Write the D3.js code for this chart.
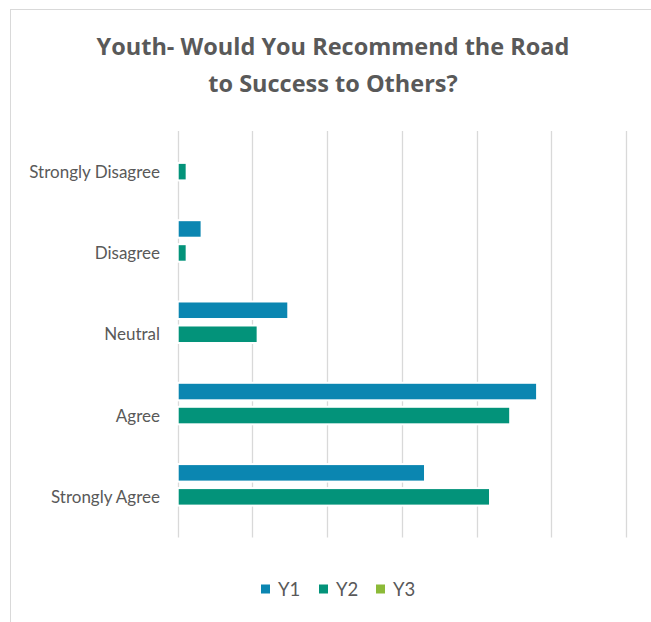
<!DOCTYPE html>
<html>
<head>
<meta charset="utf-8">
<script src="https://cdn.jsdelivr.net/npm/d3@7"></script>
<style>
  html, body { margin: 0; padding: 0; background: #ffffff; }
  svg { display: block; }
  text { font-family: Lato, "Open Sans", sans-serif; fill: #595959; }
  text.title { font-family: "Open Sans", Lato, sans-serif; }
</style>
</head>
<body>
<script>
// Survey answers, top to bottom
const categories = ["Strongly Disagree", "Disagree", "Neutral", "Agree", "Strongly Agree"];
const seriesNames = ["Y1", "Y2", "Y3"];
// Share of respondents (%) per answer, one array per year
const y1Values = [0, 3.2, 14.8, 48.1, 33.1];
const y2Values = [1.2, 1.2, 10.7, 44.5, 41.8];
const y3Values = [0, 0, 0, 0, 0];
const gridTicks = [0, 10, 20, 30, 40, 50, 60];
const titleLines = ["Youth- Would You Recommend the Road", "to Success to Others?"];

const colors = { Y1: "#0b86b1", Y2: "#03937a", Y3: "#8cba38" };
const seriesValues = { Y1: y1Values, Y2: y2Values, Y3: y3Values };

const W = 651, H = 622;
const svg = d3.select("body").append("svg").attr("width", W).attr("height", H);

// chart frame
svg.append("rect")
  .attr("x", 10.5).attr("y", 9.5)
  .attr("width", 700).attr("height", 700)
  .attr("fill", "#ffffff").attr("stroke", "#d9d9d9").attr("stroke-width", 1);

// title
svg.append("g").selectAll("text")
  .data(titleLines).join("text")
  .attr("class", "title")
  .attr("x", 333).attr("y", (d, i) => 55 + i * 37)
  .attr("text-anchor", "middle")
  .attr("font-size", 23.5).attr("font-weight", 700)
  .text(d => d);

const x = d3.scaleLinear().domain([0, 60]).range([177.7, 626]);
const y = d3.scaleBand().domain(categories).range([131, 537.5]).padding(0);
const ySub = d3.scaleBand().domain(seriesNames).range([-36, 36])
  .paddingInner(0.27).paddingOuter(0.135);

// vertical gridlines
svg.append("g").selectAll("line")
  .data(gridTicks).join("line")
  .attr("x1", d => Math.round(x(d)) + 0.5).attr("x2", d => Math.round(x(d)) + 0.5)
  .attr("y1", y.range()[0]).attr("y2", y.range()[1])
  .attr("stroke", "#d9d9d9").attr("stroke-width", 1.3);

// category labels
svg.append("g").selectAll("text")
  .data(categories).join("text")
  .attr("x", 160)
  .attr("y", d => y(d) + y.bandwidth() / 2)
  .attr("dy", "0.35em")
  .attr("text-anchor", "end")
  .attr("font-size", 17)
  .text(d => d);

// bars
const rows = [];
seriesNames.forEach(s => {
  seriesValues[s].forEach((v, i) => {
    if (v > 0) rows.push({ series: s, category: categories[i], value: v });
  });
});

svg.append("g").selectAll("rect")
  .data(rows).join("rect")
  .attr("x", x(0))
  .attr("y", d => y(d.category) + y.bandwidth() / 2 + ySub(d.series))
  .attr("width", d => x(d.value) - x(0))
  .attr("height", ySub.bandwidth())
  .attr("fill", d => colors[d.series])
  .attr("stroke", "#ffffff").attr("stroke-width", 2);

// legend
const legendX = { Y1: 261, Y2: 319, Y3: 376 };
const legend = svg.append("g").selectAll("g")
  .data(seriesNames).join("g")
  .attr("transform", d => `translate(${legendX[d]},589)`);
legend.append("rect")
  .attr("x", 0).attr("y", -4.5).attr("width", 9).attr("height", 9)
  .attr("fill", d => colors[d]);
legend.append("text")
  .attr("x", 17).attr("dy", "0.36em")
  .attr("font-size", 18.5)
  .text(d => d);
</script>
</body>
</html>
